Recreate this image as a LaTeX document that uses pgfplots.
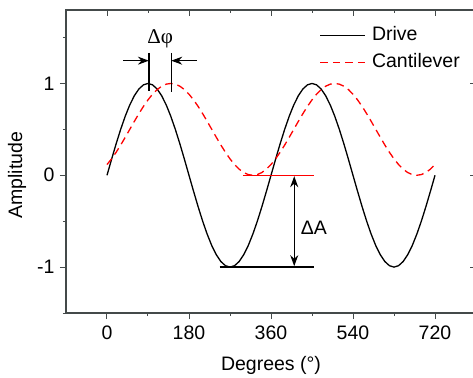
\documentclass[border=0pt]{standalone}
\usepackage{pgfplots}
\pgfplotsset{compat=1.18}
\usepackage{pgfplotstable}
\usepackage{fontspec}
\setmainfont{Liberation Sans}
\newfontfamily\seriffont{Liberation Serif}
\usetikzlibrary{arrows.meta}
\definecolor{axgray}{RGB}{68,74,74}

\pgfplotstableread{
x d c
0 0.0000 0.1170
10 0.1736 0.1786
20 0.3420 0.2500
30 0.5000 0.3290
40 0.6428 0.4132
50 0.7660 0.5000
60 0.8660 0.5868
70 0.9397 0.6710
80 0.9848 0.7500
90 1.0000 0.8214
100 0.9848 0.8830
110 0.9397 0.9330
120 0.8660 0.9698
130 0.7660 0.9924
140 0.6428 1.0000
150 0.5000 0.9924
160 0.3420 0.9698
170 0.1736 0.9330
180 0.0000 0.8830
190 -0.1736 0.8214
200 -0.3420 0.7500
210 -0.5000 0.6710
220 -0.6428 0.5868
230 -0.7660 0.5000
240 -0.8660 0.4132
250 -0.9397 0.3290
260 -0.9848 0.2500
270 -1.0000 0.1786
280 -0.9848 0.1170
290 -0.9397 0.0670
300 -0.8660 0.0302
310 -0.7660 0.0076
320 -0.6428 0.0000
330 -0.5000 0.0076
340 -0.3420 0.0302
350 -0.1736 0.0670
360 0.0000 0.1170
370 0.1736 0.1786
380 0.3420 0.2500
390 0.5000 0.3290
400 0.6428 0.4132
410 0.7660 0.5000
420 0.8660 0.5868
430 0.9397 0.6710
440 0.9848 0.7500
450 1.0000 0.8214
460 0.9848 0.8830
470 0.9397 0.9330
480 0.8660 0.9698
490 0.7660 0.9924
500 0.6428 1.0000
510 0.5000 0.9924
520 0.3420 0.9698
530 0.1736 0.9330
540 0.0000 0.8830
550 -0.1736 0.8214
560 -0.3420 0.7500
570 -0.5000 0.6710
580 -0.6428 0.5868
590 -0.7660 0.5000
600 -0.8660 0.4132
610 -0.9397 0.3290
620 -0.9848 0.2500
630 -1.0000 0.1786
640 -0.9848 0.1170
650 -0.9397 0.0670
660 -0.8660 0.0302
670 -0.7660 0.0076
680 -0.6428 0.0000
690 -0.5000 0.0076
700 -0.3420 0.0302
710 -0.1736 0.0670
720 0.0000 0.1170
}\data

\begin{document}
\begin{tikzpicture}
\useasboundingbox (-66pt,-64pt) rectangle (407pt,313pt);
\pgfplotsset{base/.style={
  width=410pt, height=303pt, scale only axis,
  xmin=-90, xmax=810, ymin=-1.5, ymax=1.8,
  xtick={0,180,360,540,720},
  minor xtick={90,270,450,630},
  ytick={-1,0,1},
  minor ytick={-1.5,-0.5,0.5,1.5},
  axis line style={axgray, line width=1.1pt},
  major tick length=6pt, minor tick length=3pt,
  every tick/.style={axgray, line width=1pt},
}}
\begin{axis}[base,
  tick align=outside, xtick pos=left, ytick pos=left,
  /pgf/number format/assume math mode=true,
  ticklabel style={font=\fontsize{19.5}{22}\selectfont},
  xticklabel style={yshift=-3pt},
  yticklabel style={xshift=-2pt},
  xlabel={Degrees (°)},
  ylabel={Amplitude},
  label style={font=\fontsize{19.5}{22}\selectfont},
  xlabel style={at={(axis description cs:0.5,-0.172)}, anchor=center},
  ylabel style={at={(axis description cs:-0.1195,0.455)}, anchor=center},
  legend style={draw=none, fill=none, at={(axis cs:460,1.665)}, anchor=north west,
    font=\fontsize{19.5}{22}\selectfont, row sep=5pt,
    nodes={inner sep=2pt, text height=14pt, text depth=4pt}},
  legend cell align=left,
  legend image code/.code={\draw[#1] (0pt,0pt) -- (45pt,0pt); \path (49pt,0pt);},
]
\addplot[black, line width=1.3pt] table[x=x, y=d] {\data};
\addlegendentry{Drive}
\addplot[red, line width=1.3pt, dash pattern=on 7.5pt off 5pt] table[x=x, y=c] {\data};
\addlegendentry{Cantilever}

% Delta A reference lines
\addplot[red, line width=1.2pt, forget plot] coordinates {(298,0) (455,0)};
\addplot[black, line width=1.2pt, forget plot] coordinates {(247,-1) (455,-1)};
\draw[black, line width=1.2pt, {Stealth[length=11pt,width=8pt]}-{Stealth[length=11pt,width=8pt]}]
  (axis cs:411,-0.01) -- (axis cs:411,-0.99);
\node[font=\fontsize{19.5}{22}\selectfont, anchor=center] at (axis cs:454,-0.57) {ΔA};

% Delta phi
\draw[black, line width=1.2pt] (axis cs:92,1.333) -- (axis cs:92,0.92);
\draw[black, line width=1.2pt] (axis cs:141,1.333) -- (axis cs:141,0.91);
\draw[black, line width=1.2pt, -{Stealth[length=11pt,width=8pt]}] (axis cs:36,1.248) -- (axis cs:92,1.248);
\draw[black, line width=1.2pt, -{Stealth[length=11pt,width=8pt]}] (axis cs:197,1.248) -- (axis cs:141,1.248);
\node[font=\seriffont\fontsize{21}{24}\selectfont, anchor=center] at (axis cs:117,1.49) {Δφ};
\end{axis}
\begin{axis}[base,
  tick align=inside, xtick pos=right, ytick pos=right,
  xticklabels={}, yticklabels={},
]
\end{axis}
\end{tikzpicture}
\end{document}
